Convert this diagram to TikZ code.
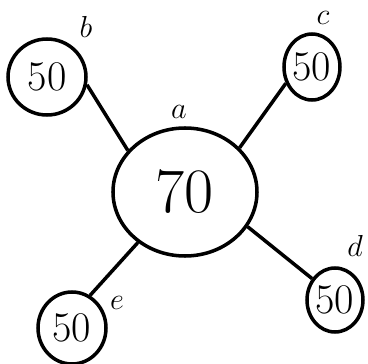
\documentclass[tikz,border=0pt]{standalone}
\usetikzlibrary{shapes.geometric}

\begin{document}
\begin{tikzpicture}[x=0.2mm, y=-0.2mm,
    knoten/.style={draw, ellipse, line width=2pt, inner sep=0pt, font=\fontsize{24}{26}\selectfont},
    kante/.style={line width=2pt},
    font=\LARGE]
    %Bildbereich
    \useasboundingbox (0,0) rectangle (368,364);
    % Knoten zeichnen
    \node[knoten, minimum width=144*0.2mm, minimum height=128*0.2mm, font=\fontsize{36}{38}\selectfont] (a) at (185,192) {70};
    \node[knoten, minimum width=78*0.2mm, minimum height=76*0.2mm] (b) at (47,77) {50};
    \node[knoten, minimum width=56*0.2mm, minimum height=66*0.2mm] (c) at (312,67) {50};
    \node[knoten, minimum width=56*0.2mm, minimum height=64*0.2mm] (d) at (335,300) {50};
    \node[knoten, minimum width=68*0.2mm, minimum height=72*0.2mm] (e) at (72,328) {50};
    % Kanten zeichnen
    \draw[kante] (a.144) -- (b.-11);
    \draw[kante] (a.39) -- (c.-148);
    \draw[kante] (a.-29) -- (d.137);
    \draw[kante] (a.-133) -- (e.61);
    % Knoten beschriften
    \node (la) at (179,112) {$a$};
    \node (lb) at (86,27) {$b$};
    \node (lc) at (323,18) {$c$};
    \node (ld) at (355,246) {$d$};
    \node (le) at (117,303) {$e$};
\end{tikzpicture}
\end{document}
